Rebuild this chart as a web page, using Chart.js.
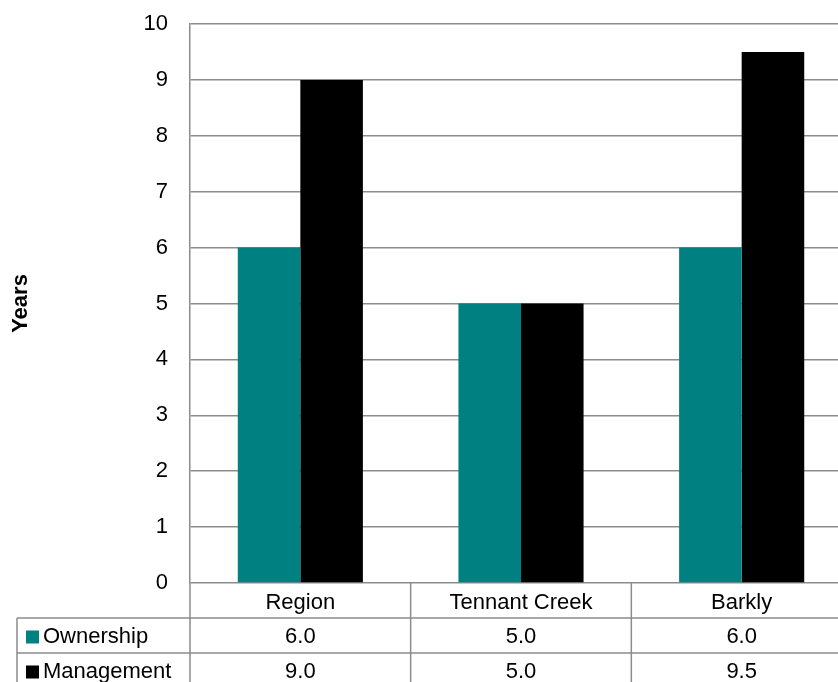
<!DOCTYPE html>
<html>
<head>
<meta charset="utf-8">
<script src="https://cdn.jsdelivr.net/npm/chart.js@4/dist/chart.umd.min.js"></script>
<style>
    html, body { margin: 0; padding: 0; background: #fff; overflow: hidden; }
    #wrap { width: 838px; height: 682px; overflow: hidden; }
</style>
</head>
<body>
<div id="wrap"><canvas id="chart" width="852" height="682"></canvas></div>
<script>
const categories = ["Region", "Tennant Creek", "Barkly"];
const ownership = [6.0, 5.0, 6.0];
const management = [9.0, 5.0, 9.5];
const seriesNames = ["Ownership", "Management"];
const seriesColors = ["#008080", "#000000"];

const FONT = "'Liberation Sans', Arial, sans-serif";
const FONT_SIZE = 22;
const GRID = "#8c8c8c";

// draws the data table under the x axis, columns follow the x scale
const dataTable = {
    id: "dataTable",
    afterDraw(chart) {
        const ctx = chart.ctx;
        const area = chart.chartArea;
        const x = chart.scales.x;
        const rowH = 35;
        const leftEdge = 17;
        const top = area.bottom;
        const bottom = chart.height + 10;
        const half = (x.getPixelForValue(1) - x.getPixelForValue(0)) / 2;

        ctx.save();
        ctx.strokeStyle = GRID;
        ctx.lineWidth = 1.5;
        ctx.beginPath();
        // horizontal row lines
        for (let r = 1; r <= 2; r++) {
            const y = top + rowH * r;
            ctx.moveTo(leftEdge, y);
            ctx.lineTo(chart.width, y);
        }
        // vertical lines
        ctx.moveTo(area.left, top);
        ctx.lineTo(area.left, bottom);
        ctx.moveTo(leftEdge, top + rowH);
        ctx.lineTo(leftEdge, bottom);
        categories.forEach((c, i) => {
            const xr = x.getPixelForValue(i) + half;
            ctx.moveTo(xr, top);
            ctx.lineTo(xr, bottom);
        });
        ctx.stroke();

        ctx.fillStyle = "#000";
        ctx.font = FONT_SIZE + "px " + FONT;
        ctx.textAlign = "center";
        ctx.textBaseline = "middle";
        categories.forEach((c, i) => {
            ctx.fillText(c, x.getPixelForValue(i), top + rowH / 2 + 2);
        });

        const rows = [ownership, management];
        rows.forEach((vals, r) => {
            const yc = top + rowH * (r + 1) + rowH / 2 + 1;
            ctx.textAlign = "center";
            ctx.fillStyle = "#000";
            vals.forEach((v, i) => {
                ctx.fillText(v.toFixed(1), x.getPixelForValue(i), yc);
            });
            ctx.fillStyle = seriesColors[r];
            ctx.fillRect(26, yc - 6, 13, 13);
            ctx.fillStyle = "#000";
            ctx.textAlign = "left";
            ctx.fillText(seriesNames[r], 43, yc);
        });
        ctx.restore();
    },
};

new Chart(document.querySelector("#chart"), {
    type: "bar",
    data: {
        labels: categories,
        datasets: [
            {
                label: seriesNames[0],
                data: ownership,
                backgroundColor: seriesColors[0],
                borderWidth: 0,
                barPercentage: 1,
                categoryPercentage: 0.567,
            },
            {
                label: seriesNames[1],
                data: management,
                backgroundColor: seriesColors[1],
                borderWidth: 0,
                barPercentage: 1,
                categoryPercentage: 0.567,
            },
        ],
    },
    options: {
        responsive: false,
        animation: false,
        layout: {
            padding: { top: 24, left: 0, right: 0, bottom: 99 },
        },
        plugins: {
            legend: { display: false },
            tooltip: { enabled: false },
        },
        scales: {
            x: {
                display: false,
            },
            y: {
                min: 0,
                max: 10,
                ticks: {
                    stepSize: 1,
                    color: "#000",
                    font: { family: FONT, size: FONT_SIZE },
                    padding: 22,
                },
                grid: {
                    color: GRID,
                    lineWidth: 1.5,
                    drawTicks: false,
                },
                border: { display: true, color: GRID, width: 1.5 },
                title: {
                    display: true,
                    text: "Years",
                    color: "#000",
                    font: { family: FONT, size: FONT_SIZE, weight: "bold" },
                    padding: { top: 8, bottom: 0 },
                },
                afterFit(scale) {
                    scale.width = 190;
                    scale.paddingTop = 0;
                    scale.paddingBottom = 0;
                },
            },
        },
    },
    plugins: [dataTable],
});
</script>
</body>
</html>
